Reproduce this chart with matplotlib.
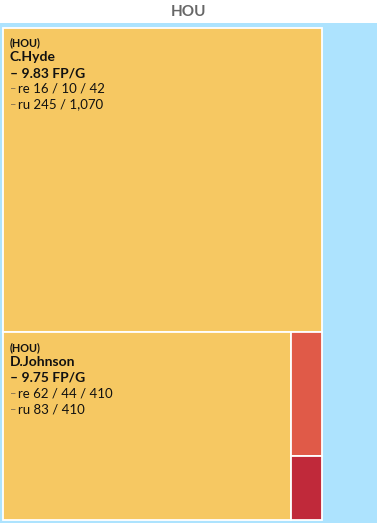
import matplotlib
matplotlib.use("Agg")
import matplotlib.pyplot as plt
from matplotlib.patches import Rectangle

plt.rcParams['font.family'] = ['Lato', 'DejaVu Sans']

team = "HOU"
# area values (treemap sizes)
players = ["C.Hyde", "D.Johnson", "", ""]
sizes = [96.4, 53.6, 3.7, 1.9]
colors = ["#F6C862", "#F6C862", "#E05A48", "#C0293A"]
fpg = ["9.83", "9.75", "", ""]
rec_lines = ["16 / 10 / 42", "62 / 44 / 410", "", ""]
rush_lines = ["245 / 1,070", "83 / 410", "", ""]

W, H = 377, 523
fig = plt.figure(figsize=(W / 100, H / 100), dpi=100)
ax = fig.add_axes([0, 0, 1, 1])
ax.set_xlim(0, W)
ax.set_ylim(H, 0)
ax.axis('off')

ax.text(W / 2, 12, team, ha='center', va='center', fontsize=11,
        fontweight='bold', color='#666666')
ax.add_patch(Rectangle((0, 23), W, H - 23, color='#ADE3FE', lw=0))

# treemap area
x0, y0, tw, th = 2.5, 27.5, 319, 492
total = sum(sizes)
rects = []
# first player takes a full-width band on top
h0 = th * sizes[0] / total
rects.append((x0, y0, tw, h0))
rest = sum(sizes[1:])
by = y0 + h0
bh = th - h0
w1 = tw * sizes[1] / rest
rects.append((x0, by, w1, bh))
small = sum(sizes[2:])
h2 = bh * sizes[2] / small
rects.append((x0 + w1, by, tw - w1, h2))
rects.append((x0 + w1, by + h2, tw - w1, bh - h2))

for (rx, ry, rw, rh), c in zip(rects, colors):
    ax.add_patch(Rectangle((rx, ry), rw, rh, facecolor=c,
                           edgecolor='white', lw=1.3))

for i, (rx, ry, rw, rh) in enumerate(rects):
    if not players[i]:
        continue
    tx, ty = rx + 7.5, ry + 15.5
    ax.text(tx, ty, "(" + team + ")", fontsize=7.8, fontweight='bold',
            va='center', color='#111111')
    ax.text(tx, ty + 14, players[i], fontsize=10, fontweight='bold',
            va='center', color='#111111')
    ax.text(tx, ty + 30, "– " + fpg[i] + " FP/G", fontsize=10,
            fontweight='bold', va='center', color='#111111')
    for k, (lab, val) in enumerate([("re", rec_lines[i]), ("ru", rush_lines[i])]):
        yy = ty + 45.5 + 16 * k
        ax.text(tx, yy, "–", fontsize=8, va='center', color='#7a6a50')
        ax.text(tx + 8.5, yy, lab + " " + val, fontsize=9.5, va='center',
                color='#111111')

fig.savefig("out.png", dpi=100)
